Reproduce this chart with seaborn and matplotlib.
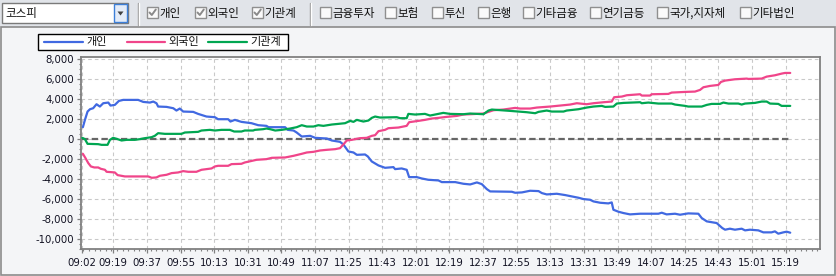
import numpy as np
import pandas as pd
import matplotlib
matplotlib.use("Agg")
import matplotlib.pyplot as plt
import seaborn as sns
from matplotlib.patches import Rectangle, Polygon
from matplotlib.lines import Line2D
from matplotlib.ticker import MultipleLocator, FixedLocator, FuncFormatter

# ---------------- data ----------------
series_names = ["개인", "외국인", "기관계"]
series_colors = ["#4169e1", "#f0458a", "#00a651"]

market = "코스피"
checked_items = ["개인", "외국인", "기관계"]
unchecked_items = ["금융투자", "보험", "투신", "은행", "기타금융", "연기금등", "국가,지자체", "기타법인"]

# minutes since 09:00
ind_t = [2.7, 3.8, 5.2, 6.5, 8.2, 10.0, 11.8, 13.6, 16.3, 17.5, 19.8, 22.0, 24.3, 32.3, 35.0, 38.6, 40.4, 42.1, 43.0, 47.5,
         51.1, 52.8, 54.6, 56.4, 61.8, 64.4, 68.9, 73.4, 75.1, 80.5, 81.7, 84.1, 87.6, 93.0, 96.6, 101.0,
         102.1, 111.0, 112.4, 115.5, 117.2, 119.9, 124.4, 127.1, 133.3, 136.0, 140.4, 142.2, 144.9, 147.6, 149.4, 153.8,
         155.3, 157.4, 161.0, 164.5, 169.0, 169.9, 173.4, 176.1, 177.4, 181.5, 184.1, 187.7, 193.1, 194.9,
         202.1, 206.5, 210.1, 211.9, 213.7, 216.3, 219.0, 220.8, 232.4, 234.2, 237.8, 242.2, 246.7, 248.5, 251.1, 256.5,
         261.0, 264.5, 268.1, 270.8, 274.3, 276.1, 279.7, 284.1, 285.9, 286.8, 289.5, 292.2, 295.7,
         301.1, 310.9, 312.7, 315.3, 319.8, 322.5, 326.9, 332.3, 334.1, 336.8, 342.1, 345.1, 346.6, 349.2, 351.9, 355.5,
         357.3, 359.9, 364.4, 367.1, 371.5, 373.3, 375.1, 377.8, 379.6, 381.5]
ind_v = [1200, 1933, 2767, 3000, 3100, 3500, 3267, 3600, 3667, 3367, 3433, 3833, 3933, 3933, 3733, 3667, 3767, 3600, 3267, 3233,
         3100, 2867, 3067, 2767, 2733, 2533, 2267, 2200, 2000, 2000, 1767, 1933, 1733, 1600, 1400, 1333,
         1200, 1200, 933, 867, 667, 267, 333, 133, 67, -133, -267, -533, -1233, -1333, -1567, -1533,
         -1733, -2233, -2633, -2867, -2800, -3000, -2933, -3067, -3800, -3800, -3933, -4067, -4133, -4300,
         -4300, -4467, -4533, -4433, -4333, -4500, -5000, -5233, -5267, -5367, -5333, -5167, -5200, -5400, -5533, -5467,
         -5600, -5733, -5867, -6000, -6067, -6233, -6367, -6433, -6333, -7067, -7267, -7400, -7533,
         -7467, -7467, -7367, -7533, -7467, -7567, -7433, -7467, -7900, -8233, -8400, -8900, -9067, -8967, -9067, -8967,
         -9133, -9067, -9133, -9333, -9333, -9233, -9467, -9333, -9267, -9367]

for_t = [2.7, 4.1, 5.6, 7.0, 8.8, 10.9, 12.3, 14.5, 15.4, 19.8, 21.3, 25.2, 37.7, 39.5, 42.1, 43.9, 47.5, 50.2, 53.7, 56.4,
         59.1, 63.5, 66.2, 71.6, 73.4, 75.1, 80.5, 82.3, 87.6, 89.4, 95.7, 101.0,
         103.9, 111.0, 115.5, 119.9, 122.6, 126.2, 129.7, 133.3, 137.8, 140.4, 142.2, 144.0, 146.7, 151.1, 154.7, 157.4,
         159.2, 161.0, 164.5, 166.3, 171.7, 176.1, 177.4, 182.4, 185.9, 189.5, 193.1, 197.5,
         199.4, 203.0, 206.5, 213.7, 217.2, 219.9, 222.6, 227.9, 234.2, 236.9, 242.2, 245.8, 252.9, 258.3, 263.6, 267.2,
         272.5, 276.1, 281.5, 285.9, 287.2, 291.3, 294.0, 301.1,
         302.0, 306.4, 307.3, 316.2, 318.0, 325.2, 330.5, 333.2, 335.0, 338.5, 343.0, 344.4, 346.6, 351.9, 358.2, 359.1,
         366.2, 368.9, 373.3, 376.9, 378.7, 381.5]
for_v = [-1467, -1900, -2400, -2733, -2833, -2833, -2967, -3067, -3267, -3333, -3600, -3733, -3733, -3867, -3833, -3667,
         -3567, -3400, -3333, -3200, -3267, -3267, -3067, -2933, -2733, -2667, -2667, -2500, -2467, -2333, -2067, -2000,
         -1867, -1833, -1667, -1467, -1333, -1267, -1133, -1067, -1000, -900, -533, -133, -67, 100, 133, 333,
         400, 800, 933, 1100, 1167, 1333, 1700, 1833, 1933, 2067, 2133, 2233,
         2267, 2333, 2467, 2533, 2567, 2733, 2900, 2967, 3133, 3067, 3067, 3167, 3267, 3367, 3467, 3600,
         3500, 3600, 3700, 3767, 4200, 4267, 4400, 4500,
         4367, 4367, 4500, 4533, 4667, 4733, 4767, 4933, 5200, 5333, 5433, 5733, 5867, 6000, 6067, 6033,
         6067, 6267, 6400, 6567, 6633, 6633]

ins_t = [2.4, 3.8, 5.2, 10.9, 12.7, 15.9, 17.2, 18.9, 21.3, 23.4, 26.1, 30.5, 33.2, 35.9, 39.5, 41.2, 43.0, 46.6, 55.5, 57.3,
         64.4, 66.2, 70.7, 73.4, 76.9, 81.4, 83.7, 87.6, 89.4, 93.9, 94.8, 99.2, 101.0,
         103.0, 105.7, 109.2, 113.7, 117.2, 119.9, 122.6, 126.2, 128.8, 131.5, 136.0, 143.1, 145.8, 147.6, 149.4, 152.9,
         155.6, 157.4, 159.2, 161.8, 170.8, 172.6, 176.1, 177.0, 180.6, 185.9, 188.6, 191.3, 195.7, 199.3,
         206.5, 210.1, 217.2, 219.9, 221.7, 231.5, 240.4, 244.9, 246.7, 251.1, 253.8, 260.1, 261.8, 268.1, 272.5, 276.1,
         280.6, 282.4, 286.8, 288.6, 292.2, 301.1,
         302.0, 305.5, 310.9, 318.0, 319.8, 325.2, 326.9, 334.1, 336.8, 339.4, 343.9, 345.7, 348.4, 353.7, 355.5, 357.3,
         362.6, 366.2, 368.9, 370.7, 375.1, 376.9, 381.5]
ins_v = [133, 0, -467, -500, -567, -567, -67, 133, 0, -133, -67, -67, 0, 100, 200, 333, 600, 533, 533, 667,
         733, 867, 933, 867, 933, 933, 767, 767, 867, 867, 933, 1000, 1067,
         1000, 867, 933, 1067, 1200, 1400, 1267, 1267, 1400, 1333, 1467, 1600, 1833, 1733, 1933, 1767,
         1867, 2133, 2267, 2167, 2200, 2100, 2100, 2533, 2467, 2533, 2367, 2467, 2633, 2533,
         2500, 2567, 2500, 2867, 2967, 2833, 2700, 2600, 2733, 2867, 2767, 2767, 2867, 3000, 3167, 3267,
         3333, 3233, 3267, 3567, 3633, 3700,
         3600, 3667, 3567, 3567, 3467, 3333, 3267, 3267, 3433, 3533, 3533, 3667, 3567, 3567, 3467, 3567,
         3633, 3767, 3767, 3567, 3533, 3333, 3333]

tick_times = ["09:02", "09:19", "09:37", "09:55", "10:13", "10:31", "10:49", "11:07", "11:25", "11:43", "12:01",
              "12:19", "12:37", "12:55", "13:13", "13:31", "13:49", "14:07", "14:25", "14:43", "15:01", "15:19"]

# ---------------- build frame ----------------
df = pd.concat([
    pd.DataFrame({"t": ind_t, "v": ind_v, "series": series_names[0]}),
    pd.DataFrame({"t": for_t, "v": for_v, "series": series_names[1]}),
    pd.DataFrame({"t": ins_t, "v": ins_v, "series": series_names[2]}),
], ignore_index=True)

def to_min(s):
    h, m = s.split(":")
    return int(h) * 60 + int(m) - 540

tick_pos = [to_min(s) for s in tick_times]

# ---------------- style ----------------
sns.set_theme(style="white")
plt.rcParams["font.family"] = ["Noto Sans CJK KR", "DejaVu Sans"]
plt.rcParams["lines.scale_dashes"] = False

W, H = 837, 276
fig = plt.figure(figsize=(W / 100, H / 100), dpi=100)
fig.patch.set_facecolor("#f4f5f7")

def fx(x):
    return x / W

def fy(y):
    return 1 - y / H

def rect(x0, y0, x1, y1, **kw):
    r = Rectangle((fx(x0), fy(y1)), (x1 - x0) / W, (y1 - y0) / H, transform=fig.transFigure, **kw)
    fig.add_artist(r)
    return r

def fline(xs, ys, **kw):
    l = Line2D([fx(x) for x in xs], [fy(y) for y in ys], transform=fig.transFigure, **kw)
    fig.add_artist(l)
    return l

# toolbar background + panel frame
rect(0, 0, W, 27, facecolor="#e1e4e9", edgecolor="none", zorder=0)
rect(1, 27, W - 1.5, H - 1.5, facecolor="#f4f5f7", edgecolor="#8c8c8c", lw=1.2, zorder=0)

# combobox
rect(2, 3, 128, 23, facecolor="white", edgecolor="#7a7a7a", lw=1, zorder=1)
fig.text(fx(5), fy(13.5), market, fontsize=8.3, color="#111111", va="center", ha="left")
rect(114, 4.5, 127, 21.5, facecolor="#e4ecf8", edgecolor="#3c7fd8", lw=1, zorder=2)
tri = Polygon([(fx(117.5), fy(11.5)), (fx(123.5), fy(11.5)), (fx(120.5), fy(15.5))],
              closed=True, transform=fig.transFigure, facecolor="#404040", edgecolor="none", zorder=3)
fig.add_artist(tri)

# separators
for sx in [138, 310]:
    fline([sx, sx], [3, 25], color="#9a9a9a", lw=1)
    fline([sx + 1, sx + 1], [3, 25], color="#ffffff", lw=1)

def checkbox(x, label, checked):
    rect(x, 7, x + 11, 18, facecolor="#fafafa", edgecolor="#8f8f8f", lw=1, zorder=2)
    if checked:
        fline([x + 2.5, x + 4.8, x + 8.8], [12.5, 15, 9.5], color="#8a8a8a", lw=1.4, zorder=3)
    fig.text(fx(x + 12.5), fy(13), label, fontsize=8.3, color="#111111", va="center", ha="left")

cb_x_checked = [147, 195, 252]
cb_x_unchecked = [320, 385, 432, 478, 523, 590, 657, 740]
for x, lab in zip(cb_x_checked, checked_items):
    checkbox(x, lab, True)
for x, lab in zip(cb_x_unchecked, unchecked_items):
    checkbox(x, lab, False)

# ---------------- axes ----------------
ax_l, ax_r, ax_t, ax_b = 81.3, 820.3, 57.3, 249.3
ax = fig.add_axes([fx(ax_l), fy(ax_b), (ax_r - ax_l) / W, (ax_b - ax_t) / H])
ax.set_facecolor("white")

sns.lineplot(data=df, x="t", y="v", hue="series", hue_order=series_names,
             palette=dict(zip(series_names, series_colors)), estimator=None, errorbar=None,
             linewidth=1.6, legend=False, ax=ax, zorder=3)

ax.hlines(0, df["t"].min(), df["t"].max(), colors="#666666", linestyles=(0, (4.6, 2.4)), lw=1.6, zorder=2)

ax.set_xlim(1.85, 397.6)
ax.set_ylim(-11030, 8200)
ax.set_xlabel("")
ax.set_ylabel("")

ax.xaxis.set_major_locator(FixedLocator(tick_pos))
ax.set_xticklabels(tick_times)
ax.xaxis.set_minor_locator(MultipleLocator(3))
ax.yaxis.set_major_locator(MultipleLocator(2000))
ax.yaxis.set_minor_locator(MultipleLocator(500))
ax.yaxis.set_major_formatter(FuncFormatter(lambda v, p: f"{int(round(v)):,}"))

ax.grid(True, which="major", color="#c9c9c9", lw=0.8, linestyle=(0, (2.6, 2.2)))
ax.set_axisbelow(True)

for side in ["left", "bottom", "top", "right"]:
    ax.spines[side].set_visible(True)
    ax.spines[side].set_color("#808080")
    ax.spines[side].set_linewidth(1.3)

ax.tick_params(axis="both", which="major", direction="out", length=3, width=0.9, color="#808080",
               labelsize=7.3, labelcolor="#111122")
ax.tick_params(axis="both", which="minor", direction="out", length=1.6, width=0.8, color="#808080")
ax.tick_params(axis="y", which="both", left=True, right=False, pad=2.2)
ax.tick_params(axis="x", which="both", bottom=True, top=False, pad=3)
for lab in ax.get_xticklabels() + ax.get_yticklabels():
    lab.set_fontfamily("DejaVu Sans")

# ---------------- legend (boxed, above plot) ----------------
rect(38, 34, 288, 49.5, facecolor="white", edgecolor="black", lw=1, zorder=4)
leg_line_x = [(44, 83), (127, 165), (208, 247)]
leg_text_x = [86, 168, 250]
for (x0, x1), tx, name, col in zip(leg_line_x, leg_text_x, series_names, series_colors):
    fline([x0, x1], [42, 42], color=col, lw=1.6, zorder=5)
    fig.text(fx(tx), fy(42), name, fontsize=8, color="#111111", va="center", ha="left", zorder=5)

fig.savefig("out.png", dpi=100, facecolor=fig.get_facecolor())
